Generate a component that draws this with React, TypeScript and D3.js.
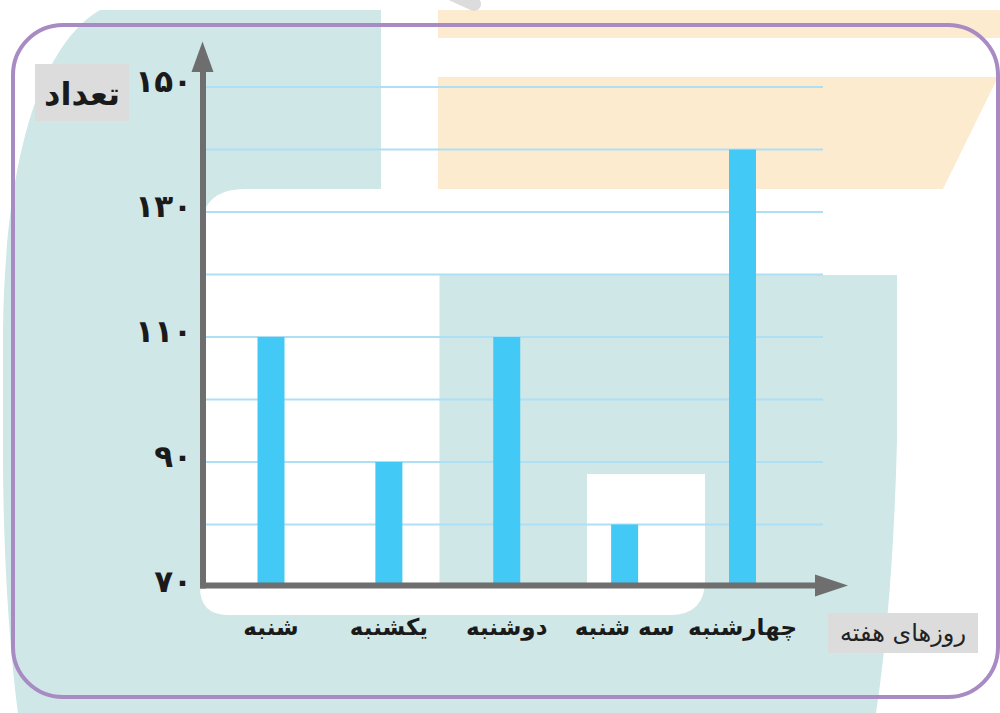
import * as d3 from 'd3';

// روزهای هفته و تعداد
const days = ['شنبه', 'یکشنبه', 'دوشنبه', 'سه شنبه', 'چهارشنبه'];
const counts = [110, 90, 110, 80, 140];
const yTicks = [70, 90, 110, 130, 150];
const yTickLabels = ['۷۰', '۹۰', '۱۱۰', '۱۳۰', '۱۵۰'];
const gridValues = [80, 90, 100, 110, 120, 130, 140, 150];
const yTitle = 'تعداد';
const xTitle = 'روزهای هفته';

const W = 1000;
const H = 713;
const FONT = '"DejaVu Sans", sans-serif';

const teal = '#cfe7e7';
const orange = '#fdebd0';
const axisGray = '#6e6e6e';
const barBlue = '#43c9f5';
const gridBlue = '#ade0f5';

const App = () => {
  const y = d3.scaleLinear().domain([70, 150]).range([587, 87]);
  const x = d3.scalePoint<string>().domain(days).range([271, 742.5]);
  const barW = 27;
  const axisX = 203;
  const axisY = y(70) - 1.5;

  return (
    <div style={{ position: 'absolute', left: 0, top: 0 }}>
      <svg width={W} height={H} style={{ display: 'block', background: '#fff' }}>
        {/* background decoration */}
        <path
          d="M100,10 L381,10 L381,275 L897,275 L897,440 Q893,600 876,713 L18,713 C10,650 3,560 3,450 L3,330 C5,160 40,45 100,10 Z"
          fill={teal}
        />
        <rect x={438} y={10} width={562} height={28} fill={orange} />
        <path d="M438,77 L998,77 L943,189 L438,189 Z" fill={orange} />
        <line x1={448} y1={-8} x2={474} y2={4} stroke="#dcdcdc" strokeWidth={14} strokeLinecap="round" />
        {/* white panel */}
        <path
          d="M245,189 L705,189 L705,580 Q705,615 670,615 L228,615 Q200,615 200,587 L200,234 Q200,189 245,189 Z"
          fill="#fff"
        />
        <rect x={439.5} y={275} width={266} height={312} fill={teal} />
        <rect x={587} y={474} width={118} height={113} fill="#fff" />
        <rect x={13} y={25} width={985} height={672} rx={50} fill="none" stroke="#a98bc3" strokeWidth={4} />

        {/* gridlines */}
        {gridValues.map((v) => (
          <line key={v} x1={axisX} x2={823} y1={y(v)} y2={y(v)} stroke={gridBlue} strokeWidth={2} />
        ))}

        {/* bars */}
        {counts.map((c, i) => (
          <rect
            key={days[i]}
            x={x(days[i])! - barW / 2}
            y={y(c)}
            width={barW}
            height={axisY - y(c)}
            fill={barBlue}
          />
        ))}

        {/* axes */}
        <line x1={axisX} x2={axisX} y1={axisY + 3} y2={70} stroke={axisGray} strokeWidth={6} />
        <path d={`M191.5,72 L213.5,72 L${axisX - 0.5},41.5 Z`} fill={axisGray} />
        <line x1={axisX - 3} x2={817} y1={axisY} y2={axisY} stroke={axisGray} strokeWidth={6} />
        <path d={`M815,${axisY - 11} L815,${axisY + 11} L848,${axisY} Z`} fill={axisGray} />

        {/* y tick labels */}
        {yTicks.map((v, i) => (
          <text
            key={v}
            x={192}
            y={y(v) + 5}
            textAnchor="end"
            fontFamily={FONT}
            fontWeight="bold"
            fontSize={31}
            fill="#1a1a1a"
          >
            {yTickLabels[i]}
          </text>
        ))}

        {/* day labels */}
        {days.map((d) => (
          <text
            key={d}
            x={x(d)}
            y={635}
            textAnchor="middle"
            fontFamily={FONT}
            fontWeight="bold"
            fontSize={23}
            fill="#1a1a1a"
          >
            {d}
          </text>
        ))}

        {/* axis titles */}
        <rect x={35} y={64} width={94} height={57} fill="#dcdcdc" />
        <text x={82} y={105} textAnchor="middle" fontFamily={FONT} fontWeight="bold" fontSize={32} fill="#1a1a1a">
          {yTitle}
        </text>
        <rect x={828} y={613} width={150} height={40} fill="#dcdcdc" />
        <text x={903} y={641} textAnchor="middle" fontFamily={FONT} fontSize={24} fill="#222">
          {xTitle}
        </text>
      </svg>
    </div>
  );
};

export default App;
